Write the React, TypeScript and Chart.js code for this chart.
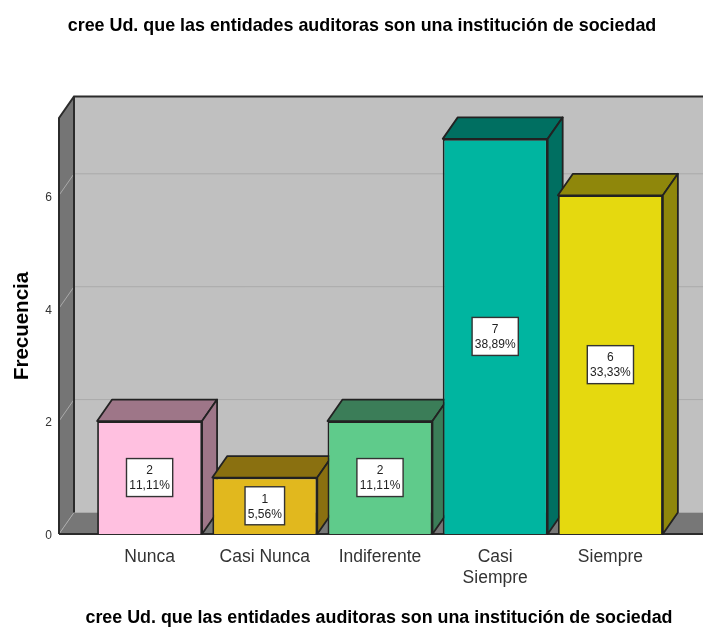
import React, { useEffect, useRef } from "react";
import { Chart, registerables } from "chart.js";

Chart.register(...registerables);

const titleText = "cree Ud. que las entidades auditoras son una institución de sociedad";
const categories: (string | string[])[] = ["Nunca", "Casi Nunca", "Indiferente", ["Casi", "Siempre"], "Siempre"];
const frequencies = [2, 1, 2, 7, 6];
const percentages = ["11,11%", "5,56%", "11,11%", "38,89%", "33,33%"];
const faceColors = ["#ffc0e0", "#e1b81e", "#5fcb8b", "#00b5a0", "#e5d90f"];
const shadeColors = ["#9e7688", "#8a7010", "#3b7d58", "#006f61", "#8f870b"];

const DX = 15;
const DY = -21.5;
const FONT = "'Liberation Sans', Arial, sans-serif";

const poly = (ctx: CanvasRenderingContext2D, pts: number[][], fill: string | null, stroke: string | null, lw = 1.8) => {
  ctx.beginPath();
  pts.forEach(([x, y], i) => (i ? ctx.lineTo(x, y) : ctx.moveTo(x, y)));
  ctx.closePath();
  if (fill) {
    ctx.fillStyle = fill;
    ctx.fill();
  }
  if (stroke) {
    ctx.strokeStyle = stroke;
    ctx.lineWidth = lw;
    ctx.lineJoin = "round";
    ctx.stroke();
  }
};

const box3d = {
  id: "box3d",
  beforeDraw(chart: any) {
    if (chart.titleBlock) {
      chart.titleBlock.left = 21;
      chart.titleBlock.right = 703;
    }
    // widen the x axis box so its long title is not squeezed to the plot width
    chart.scales.x.left = 79;
    chart.scales.x.right = 679;
  },
  beforeDatasetsDraw(chart: any) {
    const { ctx, chartArea: a, scales } = chart;
    const y = scales.y;
    const wallL = 59;
    const wallR = 703;
    const top = a.top;
    const base = y.getPixelForValue(0);
    ctx.save();
    // back wall
    poly(ctx, [[wallL + DX, top + DY], [wallR + DX, top + DY], [wallR + DX, base + DY], [wallL + DX, base + DY]], "#c0c0c0", null);
    // floor
    poly(ctx, [[wallL, base], [wallL + DX, base + DY], [wallR + DX, base + DY], [wallR, base]], "#777777", null);
    // side wall
    poly(ctx, [[wallL, top], [wallL + DX, top + DY], [wallL + DX, base + DY], [wallL, base]], "#757575", null);
    // grid lines
    ctx.strokeStyle = "#aaaaaa";
    ctx.lineWidth = 1;
    y.ticks.forEach((t: any) => {
      const py = y.getPixelForValue(t.value);
      ctx.beginPath();
      ctx.moveTo(wallL, py);
      ctx.lineTo(wallL + DX, py + DY);
      if (t.value !== 0) ctx.lineTo(wallR + DX, py + DY);
      ctx.stroke();
    });
    // wall outlines
    ctx.strokeStyle = "#2b2b2b";
    ctx.lineWidth = 2;
    ctx.beginPath();
    ctx.moveTo(wallL, base);
    ctx.lineTo(wallL, top);
    ctx.lineTo(wallL + DX, top + DY);
    ctx.lineTo(wallR + DX, top + DY);
    ctx.moveTo(wallL + DX, top + DY);
    ctx.lineTo(wallL + DX, base + DY);
    ctx.moveTo(wallL, base);
    ctx.lineTo(wallR, base);
    ctx.stroke();
    // bar tops and sides
    chart.getDatasetMeta(0).data.forEach((bar: any, i: number) => {
      const { x, y: by, base: bb, width } = bar.getProps(["x", "y", "base", "width"], true);
      const l = x - width / 2;
      const r = x + width / 2;
      poly(ctx, [[l, by], [l + DX, by + DY], [r + DX, by + DY], [r, by]], shadeColors[i], "#222222");
      poly(ctx, [[r, by], [r + DX, by + DY], [r + DX, bb + DY], [r, bb]], shadeColors[i], "#222222");
    });
    ctx.restore();
  },
  afterDatasetsDraw(chart: any) {
    const { ctx } = chart;
    ctx.save();
    chart.getDatasetMeta(0).data.forEach((bar: any, i: number) => {
      const { x, y: by, base: bb } = bar.getProps(["x", "y", "base"], true);
      const cy = (by + bb) / 2;
      const pct = percentages[i];
      ctx.font = `12px ${FONT}`;
      (ctx as any).fontKerning = "none";
      const w = ctx.measureText(pct).width + 5.5;
      ctx.fillStyle = "#ffffff";
      ctx.strokeStyle = "#333333";
      ctx.lineWidth = 1.4;
      ctx.fillRect(x - w / 2, cy - 19, w, 38);
      ctx.strokeRect(x - w / 2, cy - 19, w, 38);
      ctx.fillStyle = "#222222";
      ctx.textAlign = "center";
      ctx.textBaseline = "middle";
      ctx.fillText(String(frequencies[i]), x, cy - 6.5);
      ctx.fillText(pct, x, cy + 8.5);
    });
    ctx.restore();
  },
};

export default function App() {
  const ref = useRef<HTMLCanvasElement>(null);
  useEffect(() => {
    const chart = new Chart(ref.current!, {
      type: "bar",
      data: {
        labels: categories as any,
        datasets: [
          {
            label: "Frecuencia",
            data: frequencies,
            backgroundColor: faceColors,
            borderColor: "#222222",
            borderWidth: 1.8,
            barPercentage: 0.911,
            categoryPercentage: 1,
          },
        ],
      },
      options: {
        animation: false,
        responsive: false,
        layout: { padding: { left: 0, right: 35, top: 0, bottom: 0 } },
        plugins: {
          legend: { display: false },
          tooltip: { enabled: false },
          title: {
            display: true,
            text: titleText,
            color: "#000000",
            font: { family: FONT, size: 17.9, weight: "bold" },
            padding: { top: 15.5, bottom: 81 },
          },
        },
        scales: {
          x: {
            afterFit: (axis: any) => {
              axis.height = 96;
            },
            grid: { display: false, drawTicks: false },
            border: { display: false },
            ticks: {
              color: "#333333",
              padding: 13,
              maxRotation: 0,
              autoSkip: false,
              font: { family: FONT, size: 17.5, lineHeight: 1.2 },
            },
            title: {
              display: true,
              text: titleText,
              color: "#000000",
              font: { family: FONT, size: 17.85, weight: "bold" },
              padding: { top: 0, bottom: 1.3 },
            },
          },
          y: {
            min: 0,
            max: 7.37,
            afterFit: (axis: any) => {
              axis.width = 92;
            },
            grid: { display: false, drawTicks: false },
            border: { display: false },
            ticks: {
              stepSize: 2,
              includeBounds: false,
              color: "#333333",
              padding: 40,
              labelOffset: 2,
              font: { family: FONT, size: 12 },
            },
            title: {
              display: true,
              text: "Frecuencia",
              color: "#000000",
              font: { family: FONT, size: 20.5, weight: "bold" },
              padding: { top: 9.7, bottom: 0 },
            },
          },
        },
      },
      plugins: [box3d],
    } as any);
    return () => chart.destroy();
  }, []);
  return (
    <canvas
      ref={ref}
      width={703}
      height={630}
      style={{ position: "fixed", left: 0, top: 0, width: 703, height: 630, background: "#ffffff" }}
    />
  );
}
